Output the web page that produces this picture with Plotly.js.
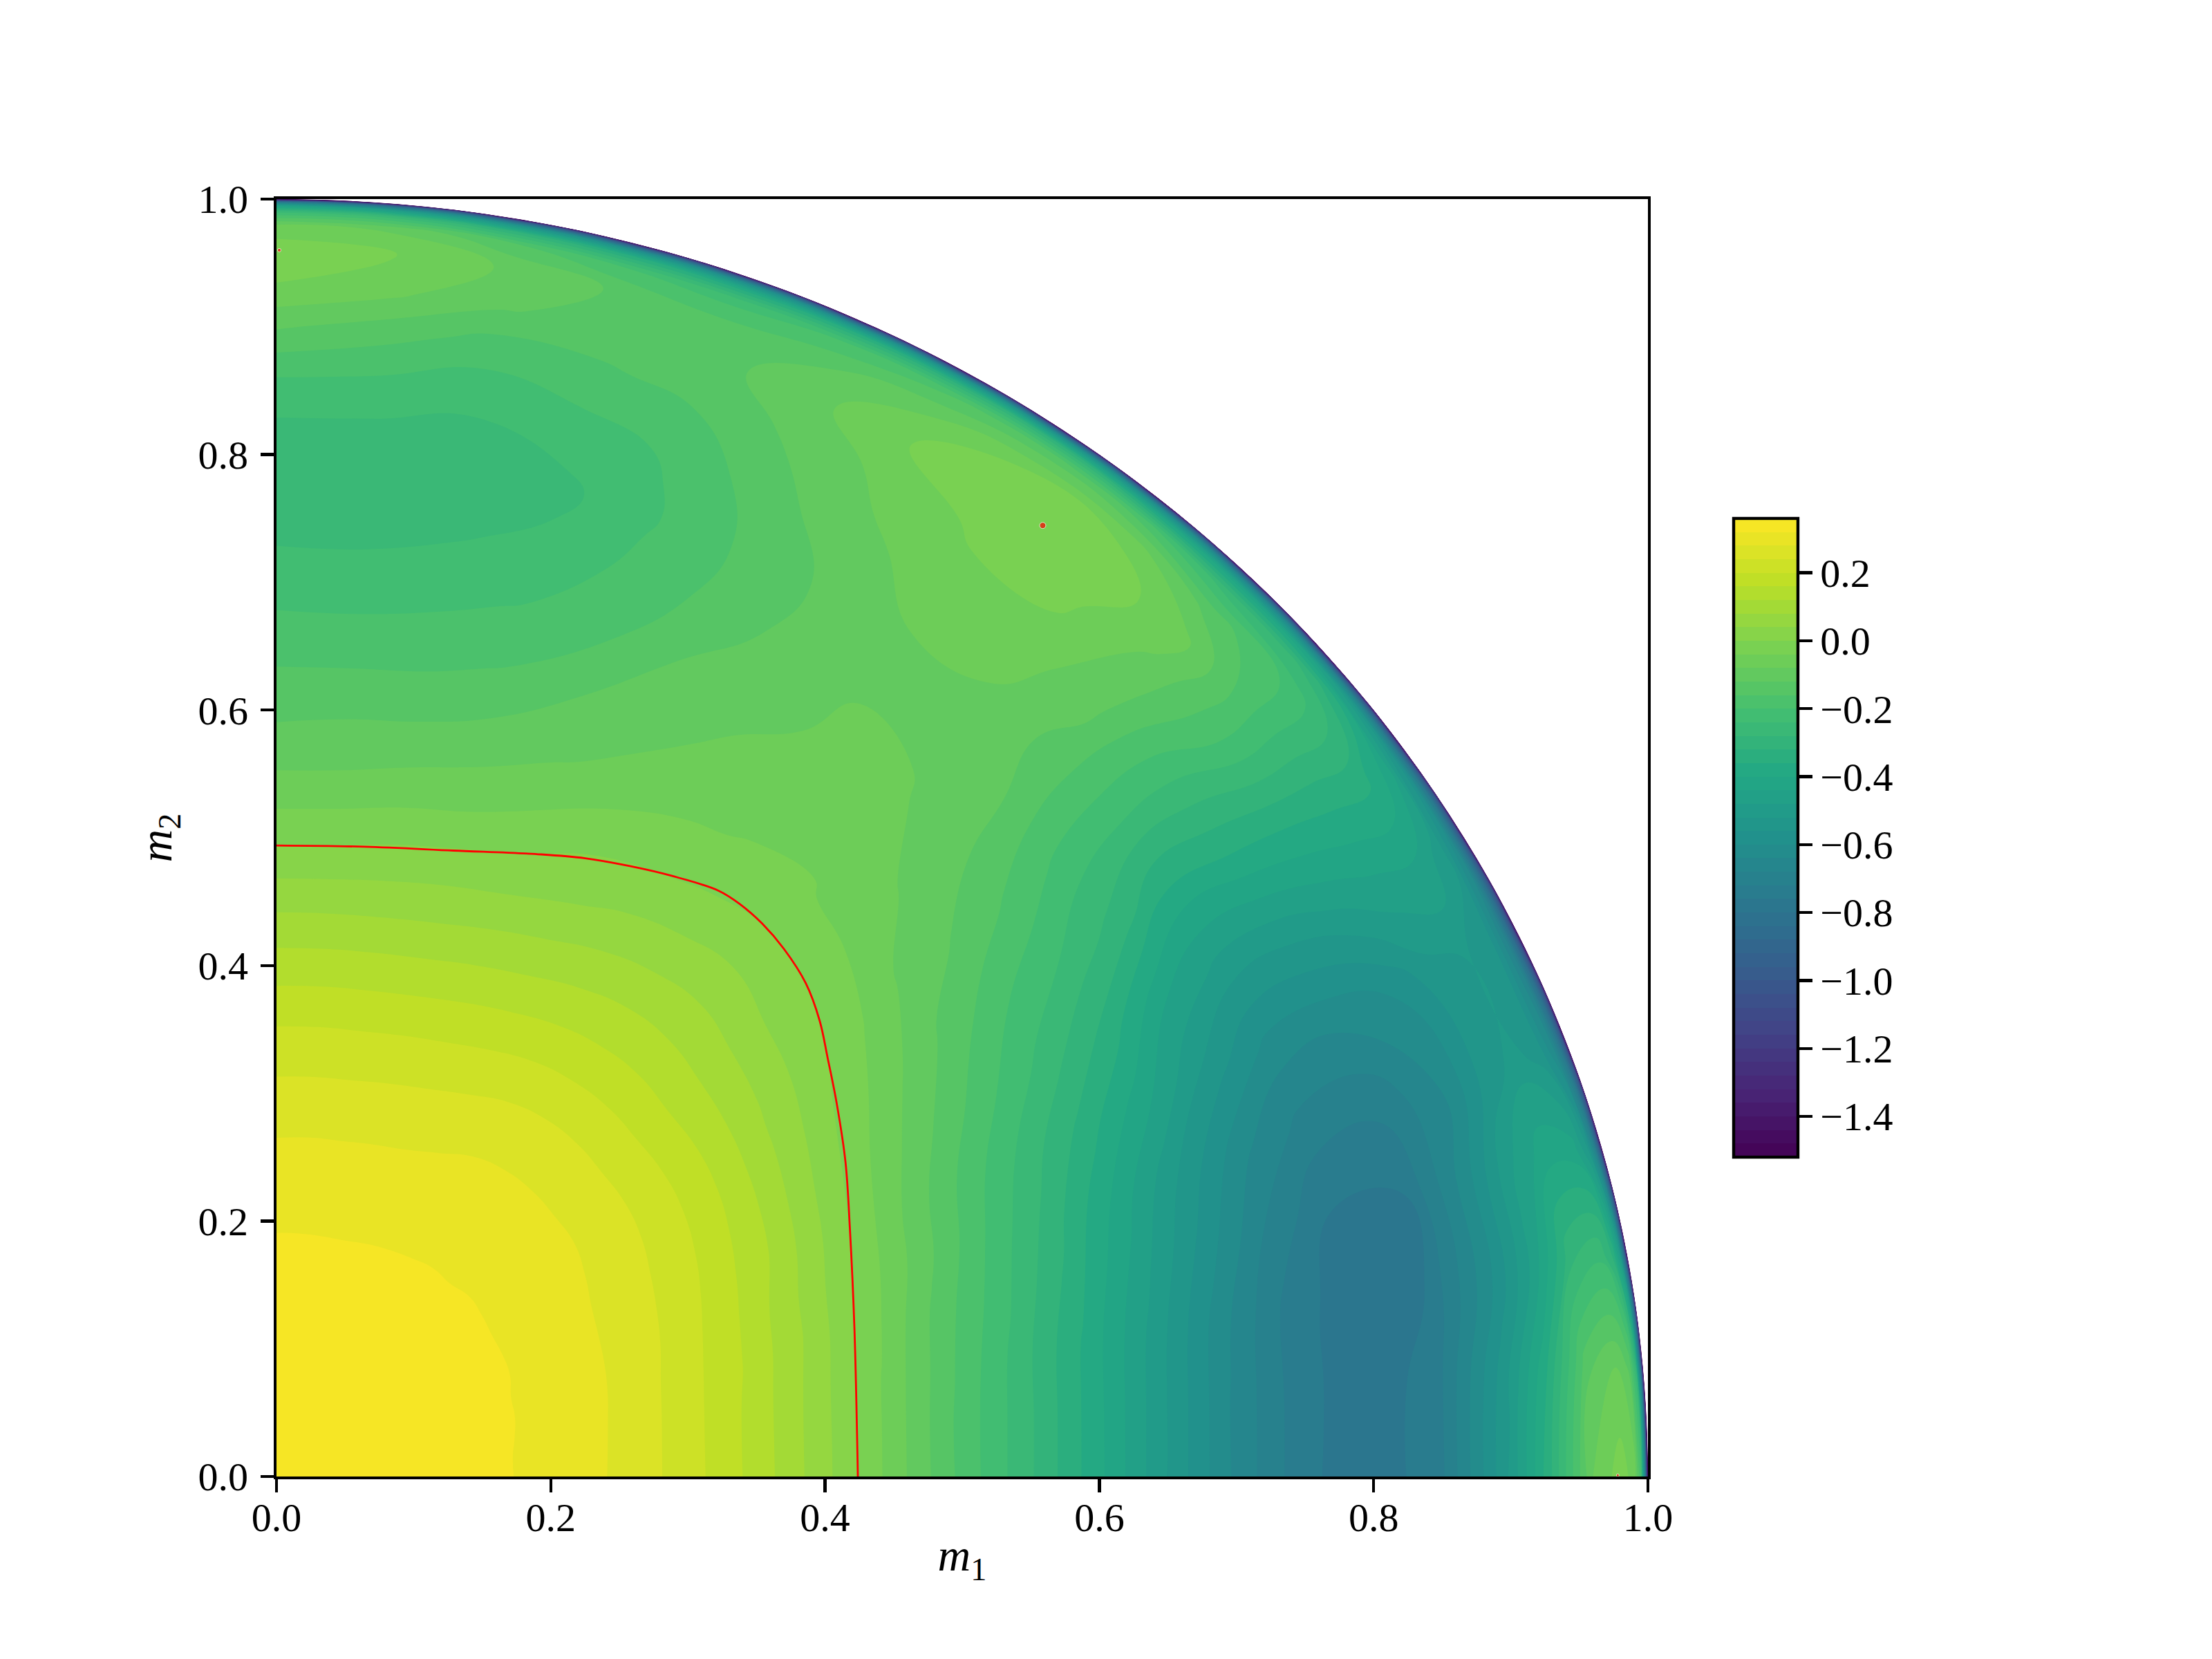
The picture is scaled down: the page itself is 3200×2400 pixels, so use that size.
<!DOCTYPE html>
<html>
<head>
<meta charset="utf-8">
<script src="https://cdn.plot.ly/plotly-3.0.1.min.js"></script>
<style>body { margin: 0; background: #fff; }</style>
</head>
<body>
<div id="plot"></div>
<script>
// field on a polar grid, one row per angle
var radius = [0, .1, .18, .25, .3, .35, .4, .45, .5, .55, .6, .65, .7, .75, .8, .85, .9, .93, .96, .98, .99, .995, .998, 1];
var angle = [0, 5, 10, 15, 20, 25, 30, 35, 40, 45, 50, 55, 60, 65, 70, 75, 80, 85, 90];

var z_rows = [
  [.345, .34, .318, .274, .219, .145, .052, -.058, -.172, -.275, -.39, -.522, -.65, -.75, -.79, -.727, -.51, -.32, -.08, -.018, -.06, -.2, -.7, -1.5],
  [.345, .34, .318, .275, .22, .146, .054, -.055, -.17, -.27, -.385, -.515, -.645, -.745, -.79, -.735, -.53, -.36, -.125, -.08, -.13, -.3, -.75, -1.5],
  [.345, .34, .319, .277, .224, .152, .062, -.045, -.155, -.258, -.37, -.495, -.625, -.735, -.79, -.76, -.6, -.47, -.28, -.245, -.33, -.5, -.85, -1.5],
  [.345, .34, .32, .28, .23, .163, .076, -.025, -.135, -.23, -.335, -.455, -.575, -.69, -.765, -.762, -.61, -.49, -.41, -.42, -.52, -.7, -.95, -1.5],
  [.345, .34, .321, .284, .238, .176, .09, -.005, -.1, -.2, -.295, -.405, -.52, -.63, -.7, -.71, -.645, -.56, -.505, -.55, -.65, -.8, -1, -1.5],
  [.345, .341, .324, .287, .247, .19, .115, .02, -.075, -.165, -.25, -.335, -.43, -.535, -.615, -.625, -.595, -.54, -.518, -.56, -.68, -.85, -1.05, -1.5],
  [.345, .341, .325, .29, .256, .203, .135, .045, -.04, -.115, -.19, -.26, -.335, -.44, -.5, -.505, -.47, -.45, -.445, -.5, -.62, -.8, -1, -1.5],
  [.345, .341, .325, .295, .264, .216, .15, .07, -.005, -.07, -.135, -.197, -.245, -.3, -.374, -.36, -.348, -.34, -.335, -.41, -.55, -.75, -1, -1.5],
  [.345, .342, .325, .302, .269, .224, .16, .09, .025, -.03, -.09, -.127, -.17, -.215, -.232, -.235, -.195, -.2, -.205, -.29, -.45, -.68, -1, -1.5],
  [.345, .342, .325, .306, .271, .228, .165, .104, .043, -.004, -.055, -.085, -.105, -.12, -.131, -.115, -.09, -.06, -.135, -.26, -.42, -.65, -.95, -1.5],
  [.345, .342, .324, .307, .274, .232, .172, .115, .06, .008, -.036, -.055, -.072, -.09, -.086, -.058, -.03, -.02, -.045, -.18, -.38, -.6, -.95, -1.5],
  [.345, .342, .325, .306, .275, .233, .173, .117, .058, .005, -.037, -.06, -.073, -.082, -.083, -.06, -.03, -.01, -.04, -.15, -.33, -.58, -.95, -1.5],
  [.345, .342, .325, .304, .273, .23, .17, .11, .05, -.002, -.045, -.07, -.095, -.105, -.113, -.09, -.065, -.038, -.085, -.17, -.34, -.58, -.95, -1.5],
  [.345, .342, .326, .298, .267, .222, .162, .098, .035, -.012, -.065, -.095, -.115, -.148, -.155, -.135, -.11, -.09, -.125, -.2, -.36, -.6, -.95, -1.5],
  [.345, .341, .326, .294, .262, .214, .154, .088, .02, -.035, -.085, -.12, -.165, -.19, -.205, -.195, -.15, -.135, -.15, -.22, -.38, -.6, -.95, -1.5],
  [.345, .341, .325, .293, .258, .209, .147, .078, .012, -.055, -.105, -.155, -.195, -.228, -.252, -.215, -.165, -.135, -.125, -.2, -.36, -.6, -.95, -1.5],
  [.345, .34, .325, .292, .255, .205, .143, .072, .003, -.065, -.12, -.17, -.21, -.245, -.265, -.235, -.175, -.115, -.085, -.15, -.32, -.55, -.9, -1.5],
  [.345, .34, .325, .292, .254, .204, .141, .069, -.006, -.075, -.125, -.175, -.22, -.255, -.265, -.225, -.14, -.07, -.035, -.09, -.27, -.5, -.85, -1.5],
  [.345, .34, .325, .291, .253, .203, .14, .068, -.009, -.077, -.13, -.174, -.22, -.255, -.265, -.222, -.115, -.045, -.012, -.08, -.25, -.45, -.8, -1.5]
];

// the red zero level
var red_m1 = [0, .064, .129, .193, .225, .257, .289, .3225, .338, .354, .37, .386, .396, .402, .4085, .4149, .4181, .4214, .4239];
var red_m2 = [.494, .493, .49, .487, .484, .478, .47, .4585, .448, .433, .413, .386, .357, .327, .292, .246, .194, .116, 0];
var dot_m1 = [.5587, .002, .978];
var dot_m2 = [.7445, .96, .001];
var dot_size = [9, 5, 4];

// level spacing of the filled bands and the viridis stops
var level_min = -1.52, level_max = 0.36, level_step = 0.04;
var viridis = ['#440154', '#482475', '#414487', '#355f8d', '#2a788e', '#21918c', '#22a884', '#44bf70', '#7ad151', '#bddf26', '#fde725'];

var font = {family: 'Liberation Serif, serif', size: 58, color: '#000'};
var title_font = {family: 'Liberation Serif, serif', size: 66, color: '#000'};

function viridis_at(t) {
  var p = Math.min(t, 0.99999) * (viridis.length - 1), n = Math.floor(p), f = p - n;
  var rgb = [1, 3, 5].map(function (k) {
    var a = parseInt(viridis[n].substr(k, 2), 16), b = parseInt(viridis[n + 1].substr(k, 2), 16);
    return Math.round(a + (b - a) * f);
  });
  return 'rgb(' + rgb.join(',') + ')';
}

var grid_x = [], grid_y = [];
for (var j = 0; j < angle.length; j++) {
  var row_x = [], row_y = [];
  for (var i = 0; i < radius.length; i++) {
    row_x.push(radius[i] * Math.cos(angle[j] * Math.PI / 180));
    row_y.push(radius[i] * Math.sin(angle[j] * Math.PI / 180));
  }
  grid_x.push(row_x);
  grid_y.push(row_y);
}

// plotly stretches a filled contour's scale half a step past both end levels
var span = level_max - level_min;
var field_scale = [[0, viridis[0]]];
viridis.forEach(function (c, k) {
  field_scale.push([(level_step / 2 + span * k / (viridis.length - 1)) / (span + level_step), c]);
});
field_scale.push([1, viridis[viridis.length - 1]]);

// stepped scale for the colour bar, one step per band
var n_bands = Math.round(span / level_step), bar_scale = [];
for (var b = 0; b < n_bands; b++) {
  bar_scale.push([b / n_bands, viridis_at((b + 0.5) / n_bands)]);
  bar_scale.push([(b + 1) / n_bands, viridis_at((b + 0.5) / n_bands)]);
}

var hidden_axis = {
  showticklabels: 'none', showgrid: false, showline: false,
  startline: false, endline: false, minorgridcount: 0
};

var carpet = {
  type: 'carpet', carpet: 'polar',
  a: radius, b: angle, x: grid_x, y: grid_y,
  aaxis: hidden_axis, baxis: hidden_axis
};

var field = {
  type: 'contourcarpet', carpet: 'polar',
  a: radius, b: angle, z: z_rows,
  autocontour: false,
  contours: {start: level_min, end: level_max, size: level_step, coloring: 'fill'},
  line: {width: 0, smoothing: 1.3},
  colorscale: field_scale,
  showscale: false
};

var zero_line = {
  type: 'scatter', mode: 'lines', x: red_m1, y: red_m2,
  line: {color: '#ff0000', width: 2.8, shape: 'spline', smoothing: 1},
  showlegend: false, hoverinfo: 'skip'
};

var zero_dots = {
  type: 'scatter', mode: 'markers', x: dot_m1, y: dot_m2,
  marker: {color: '#ff0000', size: dot_size},
  showlegend: false, hoverinfo: 'skip'
};

// only carries the colour bar, its range is exactly the level range
var bar_holder = {
  type: 'scatter', mode: 'markers', x: [0, 0], y: [0, 0],
  opacity: 0, showlegend: false, hoverinfo: 'skip',
  marker: {
    size: 1, color: [level_min, level_max], cmin: level_min, cmax: level_max,
    colorscale: bar_scale, showscale: true,
    colorbar: {
      x: 1.0625, xanchor: 'left', xpad: 0, y: 0.5, yanchor: 'middle', ypad: 0,
      lenmode: 'pixels', len: 924, thicknessmode: 'pixels', thickness: 93,
      outlinecolor: '#000', outlinewidth: 4.4,
      ticks: 'outside', ticklen: 19, tickwidth: 4.4, tickcolor: '#000',
      tick0: -1.4, dtick: 0.2, tickformat: '.1f', tickfont: font
    }
  }
};

var axis = {
  range: [0, 1], dtick: 0.2, tick0: 0, tickformat: '.1f',
  showgrid: false, zeroline: false,
  showline: true, mirror: true, linecolor: '#000', linewidth: 4.4,
  ticks: 'outside', ticklen: 19, tickwidth: 4.4, tickcolor: '#000',
  tickfont: font
};

var layout = {
  width: 3200, height: 2400, autosize: false,
  margin: {l: 400, r: 816, t: 288, b: 264, pad: 0},
  paper_bgcolor: '#fff', plot_bgcolor: '#fff',
  showlegend: false,
  xaxis: Object.assign({}, axis, {ticklabelstandoff: -14, title: {text: '<i>m</i><sub>1</sub>', font: title_font, standoff: 0}}),
  yaxis: Object.assign({}, axis, {ticklabelstandoff: 6, title: {text: '<i>m</i><sub>2</sub>', font: title_font, standoff: 18}})
};

Plotly.newPlot('plot', [carpet, field, zero_line, zero_dots, bar_holder], layout, {displayModeBar: false, staticPlot: true});
</script>
</body>
</html>
